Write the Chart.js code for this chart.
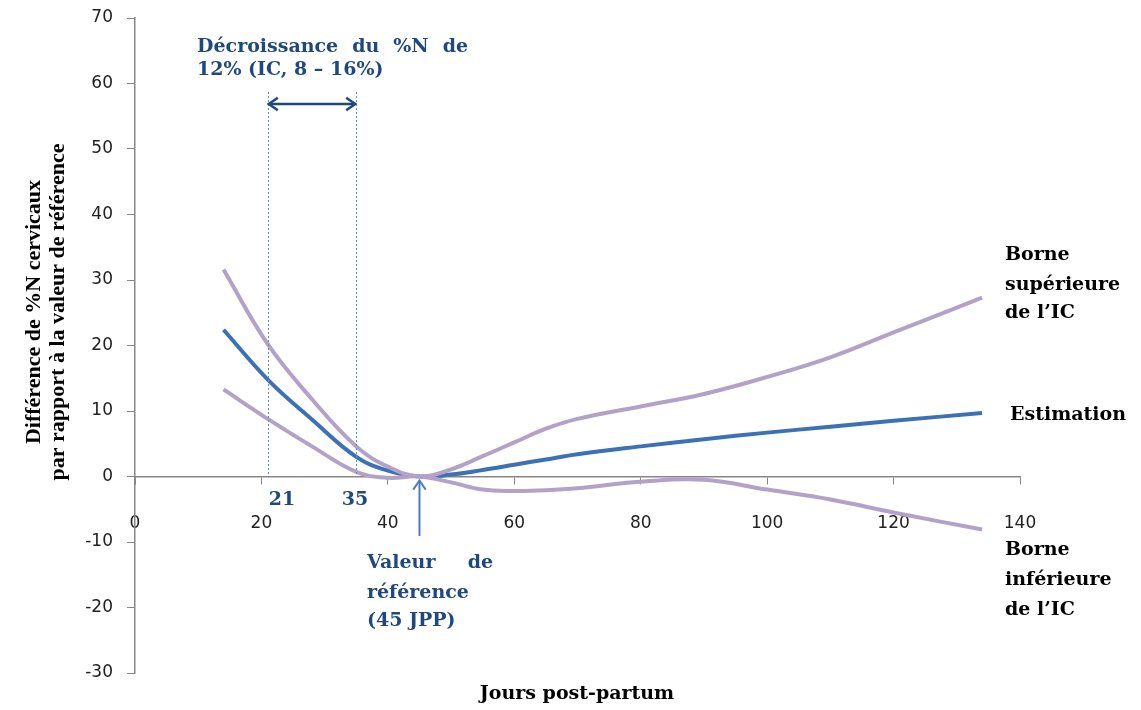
<!DOCTYPE html>
<html>
<head>
<meta charset="utf-8">
<script src="https://cdn.jsdelivr.net/npm/chart.js@4.4.1/dist/chart.umd.min.js"></script>
<style>
  html, body { margin: 0; padding: 0; background: #fff; }
</style>
</head>
<body>
<canvas id="chart" width="1141" height="710"></canvas>
<script>
// jours post-partum (x) and % difference vs reference value (y)
var jours      = [14, 21, 28, 35, 40, 45, 50, 55, 60, 65, 70, 80, 90, 100, 110, 120, 134];
var estimation = [22.4, 14.8, 8.7, 3.0, 0.9, 0, 0.3, 1.0, 1.8, 2.6, 3.4, 4.6, 5.7, 6.7, 7.6, 8.5, 9.7];
var borneSup   = [31.6, 20.2, 11.8, 4.6, 1.5, 0, 1.1, 3.1, 5.2, 7.3, 8.8, 10.7, 12.6, 15.2, 18.2, 22.0, 27.3];
var borneInf   = [13.3, 8.8, 4.6, 0.7, -0.2, 0, -0.9, -2.0, -2.2, -2.1, -1.8, -0.8, -0.5, -2.0, -3.5, -5.5, -8.1];

var xTicks = [0, 20, 40, 60, 80, 100, 120, 140];
var yTicks = [-30, -20, -10, 0, 10, 20, 30, 40, 50, 60, 70];

var bornes = [21, 35];   // interval of the decrease
var reference = 45;      // reference day

function pts(vals) {
  return jours.map(function (j, i) { return { x: j, y: vals[i] }; });
}

// write words spread over a given width (justified line)
function justify(ctx, words, x, y, w) {
  var total = 0;
  words.forEach(function (s) { total += ctx.measureText(s).width; });
  var gap = words.length > 1 ? (w - total) / (words.length - 1) : 0;
  var cx = x;
  words.forEach(function (s) {
    ctx.fillText(s, cx, y);
    cx += ctx.measureText(s).width + gap;
  });
}

function arrowHead(ctx, x, y, dx, dy, size) {
  // open chevron pointing along (dx, dy)
  var a = Math.atan2(dy, dx);
  ctx.beginPath();
  ctx.moveTo(x - size * Math.cos(a - 0.6), y - size * Math.sin(a - 0.6));
  ctx.lineTo(x, y);
  ctx.lineTo(x - size * Math.cos(a + 0.6), y - size * Math.sin(a + 0.6));
  ctx.stroke();
}

var annotations = {
  id: 'annotations',
  afterDraw: function (chart) {
    var ctx = chart.ctx;
    var xs = chart.scales.x, ys = chart.scales.y;
    var y0 = ys.getPixelForValue(0);
    ctx.save();

    // dashed verticals at 21 and 35
    ctx.strokeStyle = '#5b8fd0';
    ctx.lineWidth = 1;
    ctx.setLineDash([2, 2]);
    bornes.forEach(function (b) {
      var px = Math.round(xs.getPixelForValue(b)) + 0.5;
      ctx.beginPath();
      ctx.moveTo(px, 92);
      ctx.lineTo(px, y0);
      ctx.stroke();
    });
    ctx.setLineDash([]);

    // double arrow
    var xa = xs.getPixelForValue(bornes[0]) + 1, xb = xs.getPixelForValue(bornes[1]) - 1;
    ctx.strokeStyle = '#1f497d';
    ctx.lineWidth = 2.5;
    ctx.beginPath();
    ctx.moveTo(xa, 104);
    ctx.lineTo(xb, 104);
    ctx.stroke();
    arrowHead(ctx, xa, 104, -1, 0, 11);
    arrowHead(ctx, xb, 104, 1, 0, 11);

    // up arrow at the reference day
    var xr = xs.getPixelForValue(reference);
    ctx.strokeStyle = '#4a7ebb';
    ctx.lineWidth = 2;
    ctx.beginPath();
    ctx.moveTo(xr, 536);
    ctx.lineTo(xr, y0 + 4);
    ctx.stroke();
    arrowHead(ctx, xr, y0 + 4, 0, -1, 11);

    // blue annotation texts
    ctx.fillStyle = '#1f497d';
    ctx.textAlign = 'left';
    ctx.textBaseline = 'alphabetic';
    ctx.font = 'bold 19px "DejaVu Serif"';
    justify(ctx, ['Décroissance', 'du', '%N', 'de'], 197, 52, 271);
    ctx.fillText('12% (IC, 8 – 16%)', 197, 75);
    justify(ctx, ['Valeur', 'de'], 367, 568, 126);
    ctx.fillText('référence', 367, 598);
    ctx.fillText('(45 JPP)', 367, 626);
    ctx.textAlign = 'center';
    ctx.fillText(String(bornes[0]), 282, 505);
    ctx.fillText(String(bornes[1]), 355, 505);

    // series labels on the right
    ctx.fillStyle = '#000';
    ctx.textAlign = 'left';
    ctx.font = 'bold 19px "DejaVu Serif"';
    ctx.fillText('Borne', 1005, 260);
    ctx.fillText('supérieure', 1005, 290);
    ctx.fillText('de l\u2019IC', 1005, 318);
    ctx.fillText('Estimation', 1010, 420);
    ctx.fillText('Borne', 1005, 555);
    ctx.fillText('inférieure', 1005, 585);
    ctx.fillText('de l\u2019IC', 1005, 615);

    // axis titles
    ctx.textAlign = 'center';
    ctx.fillText('Jours post-partum', 577, 699);
    ctx.font = 'bold 22px "Liberation Serif"';
    ctx.translate(0, 312);
    ctx.rotate(-Math.PI / 2);
    ctx.fillText('Différence de %N cervicaux', 0, 40);
    ctx.fillText('par rapport à la valeur de référence', 0, 64);
    ctx.restore();
  }
};

var ctx = document.getElementById('chart').getContext('2d');
var myChart = new Chart(ctx, {
  type: 'line',
  data: {
    datasets: [
      { label: 'Borne supérieure de l\u2019IC', data: pts(borneSup), borderColor: '#b3a2c7' },
      { label: 'Borne inférieure de l\u2019IC', data: pts(borneInf), borderColor: '#b3a2c7' },
      { label: 'Estimation', data: pts(estimation), borderColor: '#3d71b6' }
    ]
  },
  options: {
    responsive: false,
    animation: false,
    datasets: {
      line: { borderWidth: 4, pointRadius: 0, tension: 0.4, fill: false }
    },
    layout: { autoPadding: false, padding: { left: 0, top: 18, right: 121, bottom: 37 } },
    plugins: { legend: { display: false }, tooltip: { enabled: false } },
    scales: {
      x: {
        type: 'linear',
        position: { y: 0 },
        min: 0, max: 140,
        afterBuildTicks: function (s) { s.ticks = xTicks.map(function (v) { return { value: v }; }); },
        grid: { drawOnChartArea: false, tickLength: 7, color: '#868686' },
        border: { color: '#868686', width: 1.5 },
        ticks: { padding: 30, color: '#222', font: { family: 'DejaVu Sans', size: 17 }, maxRotation: 0 }
      },
      y: {
        min: -30, max: 70,
        afterBuildTicks: function (s) { s.ticks = yTicks.map(function (v) { return { value: v }; }); },
        afterFit: function (s) { s.width = 135; s.paddingTop = 0; s.paddingBottom = 0; },
        grid: { drawOnChartArea: false, tickLength: 8, color: '#868686' },
        border: { color: '#868686', width: 1.5 },
        ticks: { padding: 14, color: '#222', font: { family: 'DejaVu Sans', size: 17 } }
      }
    }
  },
  plugins: [annotations]
});
</script>
</body>
</html>
